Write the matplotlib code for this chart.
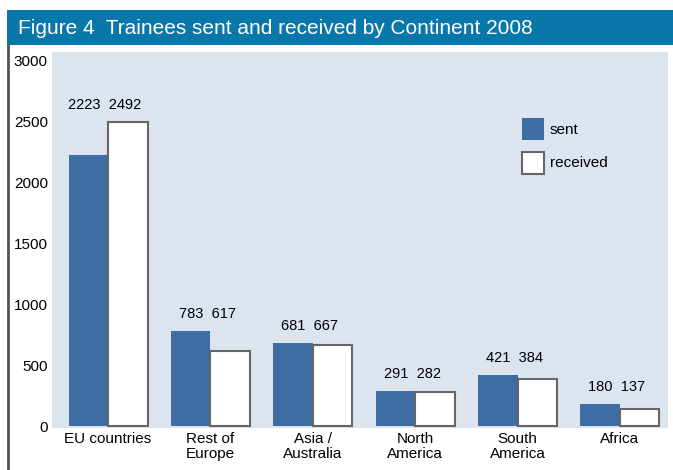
import matplotlib.pyplot as plt
from matplotlib.patches import Rectangle
import numpy as np

# data
continents = ["EU countries", "Rest of\nEurope", "Asia /\nAustralia", "North\nAmerica", "South\nAmerica", "Africa"]
sent = [2223, 783, 681, 291, 421, 180]
received = [2492, 617, 667, 282, 384, 137]
y_ticks = [0, 500, 1000, 1500, 2000, 2500, 3000]

plt.rcParams['font.family'] = ['Liberation Sans', 'DejaVu Sans']

blue = '#3d6da3'
fig = plt.figure(figsize=(6.73, 4.70), dpi=100)

# title bar
fig.patches.append(Rectangle((0.0104, 0.904), 0.99, 0.0745, transform=fig.transFigure,
                             facecolor='#0a77ab', edgecolor='none', zorder=0))
fig.text(0.027, 0.940, "Figure 4  Trainees sent and received by Continent 2008",
         color='white', fontsize=15, va='center', ha='left')
# left frame line
fig.lines.append(plt.Line2D([0.0119, 0.0119], [0.0, 0.904], transform=fig.transFigure,
                            color='#555555', lw=2))

ax = fig.add_axes([0.0773, 0.0894, 0.9153, 0.80])
ax.set_facecolor('#dce4f0')
x = np.arange(len(continents))
w = 0.386
ax.bar(x - w / 2, sent, width=w, color=blue, edgecolor='none', label='sent', zorder=3)
ax.bar(x + w / 2, received, width=w, color='white', edgecolor='#666666', linewidth=1.5,
       label='received', zorder=3)

# both values of a group written as one label above the group
for i in range(len(continents)):
    top = max(sent[i], received[i])
    ax.annotate(f"{sent[i]}  {received[i]}", (x[i] - 0.03, top), xytext=(0, 7),
                textcoords='offset points', ha='center', va='bottom', fontsize=10.5)

ax.set_xlim(-0.547, 5.47)
ax.set_ylim(-16, 3066)
ax.set_yticks(y_ticks)
ax.set_xticks(x)
ax.set_xticklabels(continents, linespacing=1.1)
ax.tick_params(length=0, labelsize=11, pad=3)
for s in ax.spines.values():
    s.set_visible(False)

ax.legend(loc='upper left', bbox_to_anchor=(0.74, 0.862), frameon=False, fontsize=11,
          handlelength=1.44, handleheight=1.84, handletextpad=0.4, labelspacing=0.78)

fig.savefig('out.png', dpi=100)
